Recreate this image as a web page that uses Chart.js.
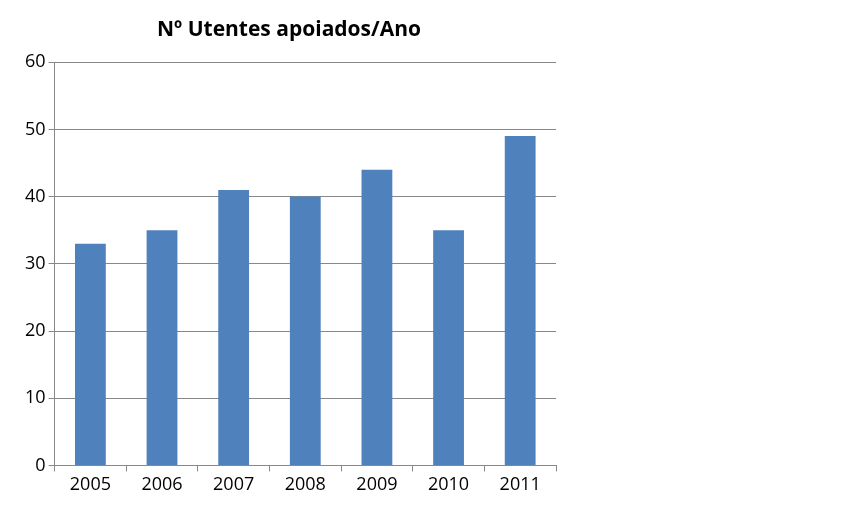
<!DOCTYPE html><html><head><script src="https://cdn.jsdelivr.net/npm/chart.js"></script>
<style>body{margin:0;background:#fff}#w{width:863px;height:517px}</style></head><body><div id="w"><canvas id="c"></canvas></div>
<script>
const categories=["2005","2006","2007","2008","2009","2010","2011"];
const values=[33,35,41,40,44,35,49];
const seriesName="Nº Utentes apoiados/Ano";
const font="'Open Sans', 'Liberation Sans', sans-serif";
const legendPlugin={id:'sideLegend',afterDraw(ch){const c=ch.ctx;const ds=ch.data.datasets[0];const y=(ch.chartArea.top+ch.chartArea.bottom)/2-6;
c.save();c.fillStyle=ds.backgroundColor;c.fillRect(580,y-6,12,12);c.fillStyle='#000';c.font="17px "+font;c.textBaseline='middle';c.fillText(ds.label,600,y);c.restore();}};
new Chart(document.getElementById('c'),{type:'bar',
data:{labels:categories,datasets:[{label:seriesName,data:values,backgroundColor:'#4F81BD',barPercentage:0.43,categoryPercentage:1}]},
options:{responsive:true,maintainAspectRatio:false,animation:false,
layout:{padding:{left:22,right:307,top:12,bottom:18}},
plugins:{title:{display:true,text:seriesName,font:{family:font,size:21,weight:'bold'},color:'#000',padding:{top:5,bottom:20}},
legend:{display:false}},
scales:{x:{grid:{drawOnChartArea:false,offset:true,color:'#888',tickLength:6},border:{color:'#888'},ticks:{font:{family:font,size:18},color:'#000'}},
y:{min:0,max:60,ticks:{stepSize:10,font:{family:font,size:18},color:'#000'},grid:{color:'#888',tickLength:6},border:{color:'#888'}}}}},);
</script></body></html>
